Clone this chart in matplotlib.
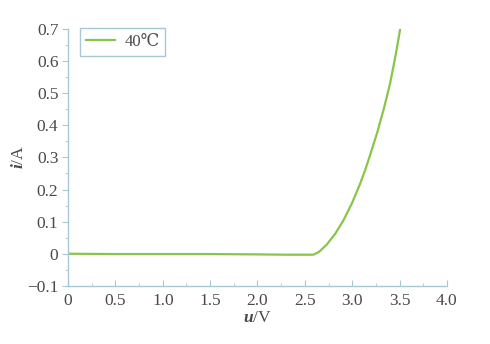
import matplotlib
matplotlib.use("Agg")
import matplotlib.pyplot as plt

# 40℃ 伏安特性曲线
U_VALUES = [0.0, 0.5, 1.0, 1.5, 2.0, 2.3, 2.55, 2.59, 2.65, 2.73, 2.82, 2.906,
            3.0, 3.08, 3.14, 3.2, 3.27, 3.34, 3.40, 3.46, 3.51]
I_VALUES = [0.0, -0.001, -0.001, -0.001, -0.002, -0.003, -0.003, -0.003, 0.006, 0.028,
            0.062, 0.103, 0.159, 0.215, 0.263, 0.317, 0.383, 0.458, 0.53, 0.62, 0.705]
LEGEND_LABEL = "40℃"
X_TICKS = [0, 0.5, 1.0, 1.5, 2.0, 2.5, 3.0, 3.5, 4.0]
X_TICK_LABELS = ["0", "0.5", "1.0", "1.5", "2.0", "2.5", "3.0", "3.5", "4.0"]
Y_TICKS = [-0.1, 0, 0.1, 0.2, 0.3, 0.4, 0.5, 0.6, 0.7]
Y_TICK_LABELS = ["\u22120.1", "0", "0.1", "0.2", "0.3", "0.4", "0.5", "0.6", "0.7"]

LINE_COLOR = "#88c64a"
AXIS_COLOR = "#a8c8d4"
TEXT_COLOR = "#4a4a4a"

plt.rcParams["font.family"] = ["Liberation Serif", "DejaVu Serif"]
plt.rcParams["mathtext.fontset"] = "custom"
plt.rcParams["mathtext.it"] = "Liberation Serif:italic:bold"
plt.rcParams["mathtext.rm"] = "Liberation Serif"

fig = plt.figure(figsize=(4.9, 3.44), dpi=100)
ax = fig.add_axes([0.139, 0.169, 0.773, 0.747])

ax.plot(U_VALUES, I_VALUES, color=LINE_COLOR, linewidth=1.6, label=LEGEND_LABEL)

ax.set_xlim(0, 4.0)
ax.set_ylim(-0.1, 0.7)
ax.set_xticks(X_TICKS)
ax.set_xticklabels(X_TICK_LABELS)
ax.set_yticks(Y_TICKS)
ax.set_yticklabels(Y_TICK_LABELS)
ax.set_xticks([0.25 + 0.5 * k for k in range(8)], minor=True)
ax.set_yticks([-0.05 + 0.1 * k for k in range(8)], minor=True)

for side in ["top", "right"]:
    ax.spines[side].set_visible(False)
for side in ["left", "bottom"]:
    ax.spines[side].set_color(AXIS_COLOR)
    ax.spines[side].set_linewidth(1.0)

ax.tick_params(axis="both", which="both", colors=AXIS_COLOR, labelcolor=TEXT_COLOR,
               labelsize=12.5)
ax.tick_params(axis="x", which="major", direction="in", length=4, pad=5)
ax.tick_params(axis="x", which="minor", direction="in", length=2)
ax.tick_params(axis="y", which="major", direction="out", length=4, pad=3)
ax.tick_params(axis="y", which="minor", direction="out", length=2)

ax.set_xlabel("$\\mathit{u}$/V", fontsize=12.5, color=TEXT_COLOR, labelpad=1)
ax.set_ylabel("$\\mathit{i}$/A", fontsize=12.5, color=TEXT_COLOR, labelpad=0)

leg = ax.legend(loc="upper left", bbox_to_anchor=(0.032, 1.004), borderaxespad=0,
                fancybox=False, framealpha=1, fontsize=12, handlelength=1.75,
                handletextpad=0.55, borderpad=0.35, labelcolor=TEXT_COLOR)
leg.get_frame().set_edgecolor(AXIS_COLOR)
leg.get_frame().set_linewidth(1.0)

fig.savefig("out.png", dpi=100)
